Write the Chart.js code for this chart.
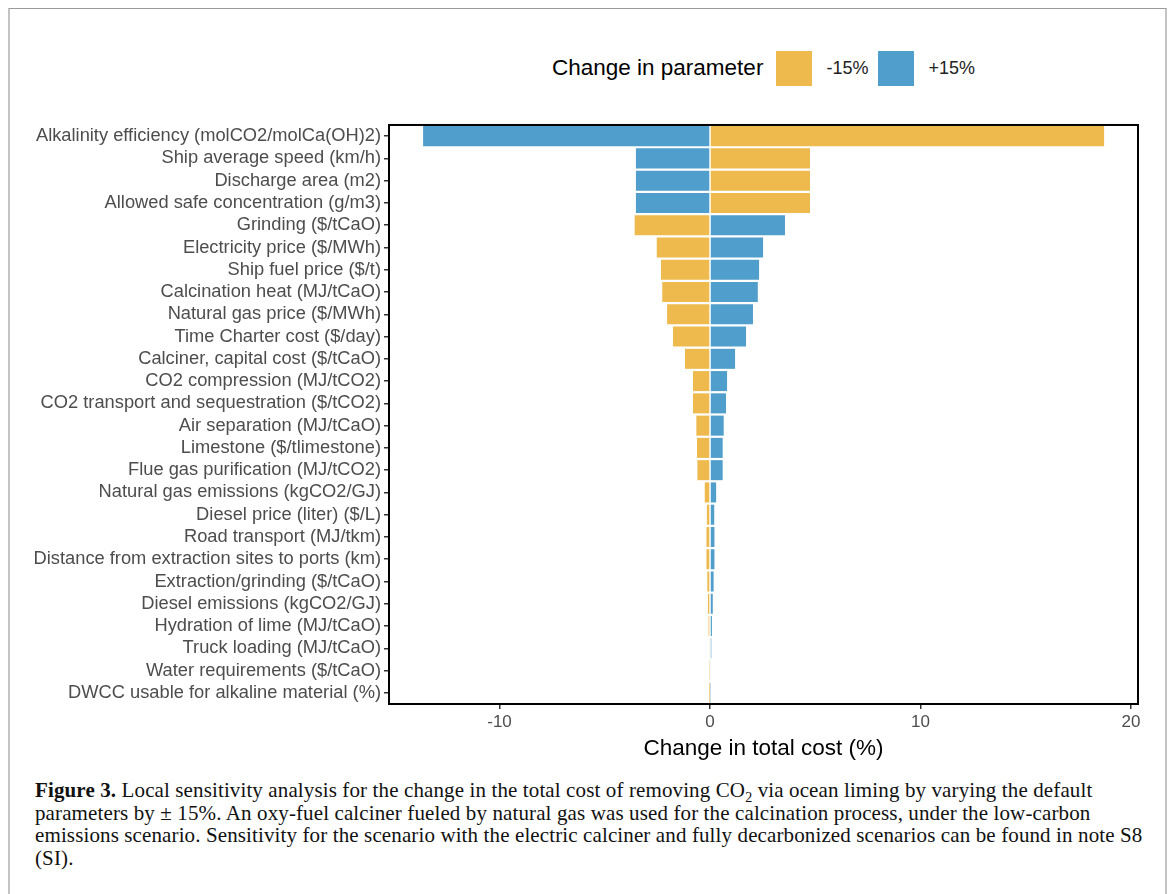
<!DOCTYPE html>
<html>
<head>
<meta charset="utf-8">
<script src="https://cdn.jsdelivr.net/npm/chart.js@4"></script>
<style>
  body { margin: 0; background: #fff; }
  #page { position: relative; width: 1168px; height: 894px; overflow: hidden; font-family: "Liberation Sans", Arial, sans-serif; }
  #frame { position: absolute; left: 8px; top: 8px; width: 1155px; height: 900px; border-top: 1px solid #9a9a9a; border-left: 2px solid #c4c4c4; border-right: 2px solid #c4c4c4; }
  #legend { position: absolute; left: 552px; top: 50px; height: 36px; display: flex; align-items: center; }
  #legend .title { font-size: 22.5px; color: #000; margin-right: 13px; }
  #legend .box { width: 36px; height: 35px; }
  #legend .lab { font-size: 18px; color: #222; margin: 0 10px 0 14px; }
  #chart-box { position: absolute; left: 20px; top: 111px; width: 1130px; height: 654px; }
  #caption { position: absolute; left: 35px; top: 779px; width: 1120px; font-family: "Liberation Serif", "DejaVu Serif", serif; font-size: 21px; line-height: 22.6px; letter-spacing: 0.12px; color: #111; white-space: nowrap; }
  #caption sub { font-size: 14px; line-height: 0; }
</style>
</head>
<body>
<div id="page">
  <div id="frame"></div>
  <div id="legend">
    <span class="title">Change in parameter</span>
    <span class="box" id="sw-minus"></span><span class="lab">-15%</span>
    <span class="box" id="sw-plus"></span><span class="lab">+15%</span>
  </div>
  <div id="chart-box"><canvas id="tornado"></canvas></div>
  <div id="caption">
    <b>Figure 3.</b> Local sensitivity analysis for the change in the total cost of removing CO<sub>2</sub> via ocean liming by varying the default<br>
    parameters by &plusmn; 15%. An oxy-fuel calciner fueled by natural gas was used for the calcination process, under the low-carbon<br>
    emissions scenario. Sensitivity for the scenario with the electric calciner and fully decarbonized scenarios can be found in note S8<br>
    (SI).
  </div>
</div>
<script>
// parameters, top to bottom as in the figure
const parameters = [
  'Alkalinity efficiency (molCO2/molCa(OH)2)',
  'Ship average speed (km/h)',
  'Discharge area (m2)',
  'Allowed safe concentration (g/m3)',
  'Grinding ($/tCaO)',
  'Electricity price ($/MWh)',
  'Ship fuel price ($/t)',
  'Calcination heat (MJ/tCaO)',
  'Natural gas price ($/MWh)',
  'Time Charter cost ($/day)',
  'Calciner, capital cost ($/tCaO)',
  'CO2 compression (MJ/tCO2)',
  'CO2 transport and sequestration ($/tCO2)',
  'Air separation (MJ/tCaO)',
  'Limestone ($/tlimestone)',
  'Flue gas purification (MJ/tCO2)',
  'Natural gas emissions (kgCO2/GJ)',
  'Diesel price (liter) ($/L)',
  'Road transport (MJ/tkm)',
  'Distance from extraction sites to ports (km)',
  'Extraction/grinding ($/tCaO)',
  'Diesel emissions (kgCO2/GJ)',
  'Hydration of lime (MJ/tCaO)',
  'Truck loading (MJ/tCaO)',
  'Water requirements ($/tCaO)',
  'DWCC usable for alkaline material (%)'
];

// change in total cost (%) for -15% and +15% of each parameter
const minus15 = [18.72, 4.75, 4.75, 4.75, -3.58, -2.53, -2.33, -2.27, -2.04, -1.76, -1.19, -0.81, -0.81,
  -0.65, -0.62, -0.6, -0.25, -0.15, -0.17, -0.17, -0.13, -0.1, -0.07, -0.04, -0.02, -0.005];
const plus15 = [-13.63, -3.52, -3.52, -3.52, 3.56, 2.52, 2.33, 2.27, 2.04, 1.71, 1.19, 0.81, 0.76,
  0.65, 0.6, 0.6, 0.29, 0.2, 0.21, 0.21, 0.17, 0.13, 0.09, 0.06, 0.04, 0.02];

const xTicks = [-10, 0, 10, 20];
const xMin = -15.25;
const xMax = 20.33;

const orange = '#EEBA4E';
const blue = '#4F9ECB';
const labelGrey = '#4d4d4d';

document.getElementById('sw-minus').style.background = orange;
document.getElementById('sw-plus').style.background = blue;

// black box around the panel, like ggplot's panel.border
const panelBorder = {
  id: 'panelBorder',
  afterDraw(chart) {
    const { ctx, chartArea } = chart;
    ctx.save();
    ctx.strokeStyle = '#000';
    ctx.lineWidth = 2;
    ctx.strokeRect(chartArea.left, chartArea.top, chartArea.right - chartArea.left, chartArea.bottom - chartArea.top);
    ctx.restore();
  }
};

new Chart(document.getElementById('tornado'), {
  type: 'bar',
  data: {
    labels: parameters,
    datasets: [
      { label: '-15%', data: minus15, backgroundColor: orange },
      { label: '+15%', data: plus15, backgroundColor: blue }
    ]
  },
  options: {
    indexAxis: 'y',
    responsive: true,
    maintainAspectRatio: false,
    animation: false,
    grouped: false,
    categoryPercentage: 1,
    barPercentage: 0.9,
    borderWidth: 0,
    layout: { padding: { top: 9, right: 12, left: 0, bottom: 0 } },
    plugins: {
      legend: { display: false },
      tooltip: { enabled: false }
    },
    scales: {
      x: {
        type: 'linear',
        min: xMin,
        max: xMax,
        afterBuildTicks: (scale) => { scale.ticks = xTicks.map(v => ({ value: v })); },
        afterFit: (scale) => { scale.height = 61; },
        border: { display: false },
        grid: { drawOnChartArea: false, drawTicks: true, tickLength: 5, color: '#333', lineWidth: 1.5 },
        ticks: { color: labelGrey, font: { family: 'Liberation Sans', size: 17 }, padding: 3, maxRotation: 0 },
        title: {
          display: true,
          text: 'Change in total cost (%)',
          color: '#000',
          font: { family: 'Liberation Sans', size: 22.5 },
          padding: { top: 0, bottom: 3 }
        }
      },
      y: {
        type: 'category',
        afterFit: (scale) => { scale.width = 369; },
        border: { display: false },
        grid: { offset: false, drawOnChartArea: false, drawTicks: true, tickLength: 5, color: '#333', lineWidth: 1.5 },
        ticks: { color: labelGrey, font: { family: 'Liberation Sans', size: 18.3 }, padding: 3, autoSkip: false }
      }
    }
  },
  plugins: [panelBorder]
});
</script>
</body>
</html>
